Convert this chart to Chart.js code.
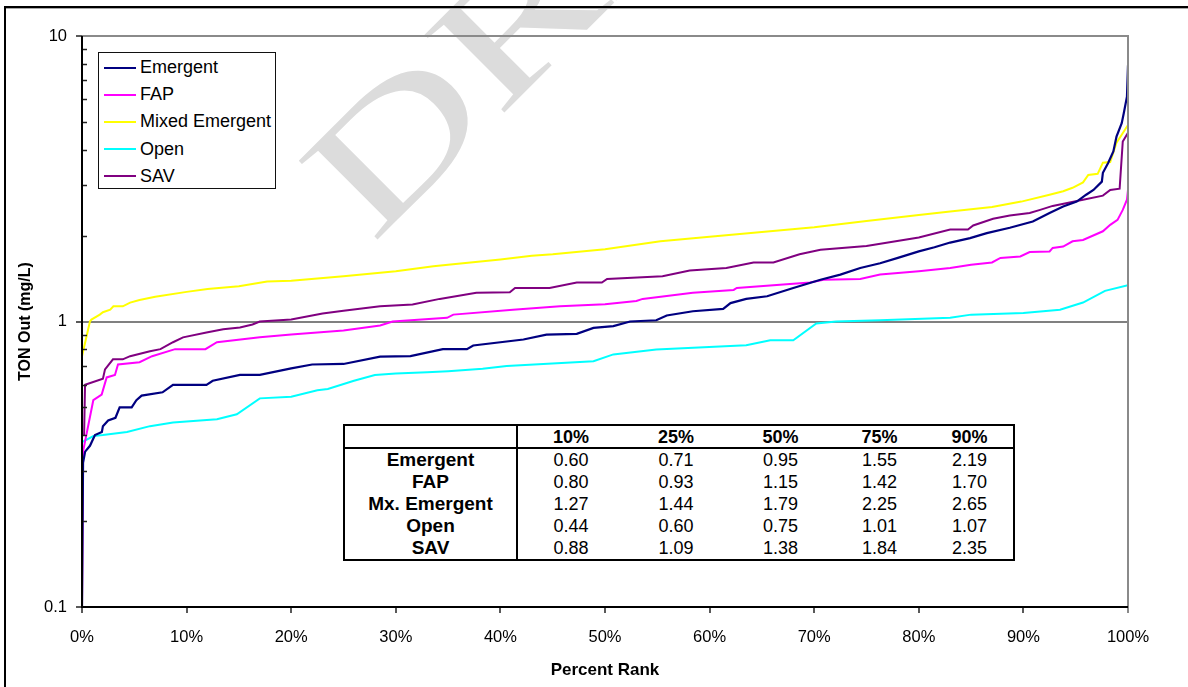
<!DOCTYPE html>
<html>
<head>
<meta charset="utf-8">
<script src="https://cdn.jsdelivr.net/npm/chart.js@4.4.1/dist/chart.umd.min.js"></script>
<style>
html,body{margin:0;padding:0;background:#fff;overflow:hidden;}
#wrap{position:relative;width:1188px;height:687px;overflow:hidden;font-family:"Liberation Sans",Arial,sans-serif;background:#fff;}
#watermark{position:absolute;left:272px;top:144px;font-family:"Liberation Serif","Times New Roman",serif;font-size:170px;line-height:170px;color:#dcdcdc;white-space:nowrap;transform-origin:0 0;transform:rotate(-45deg) scaleX(1.45);z-index:0;}
#chart{position:absolute;left:0;top:0;z-index:1;}
#frame{position:absolute;left:4px;top:6px;width:1300px;height:800px;border-top:2px solid #000;border-left:2px solid #000;z-index:2;}
#frame2{position:absolute;left:6px;top:8px;width:1300px;height:1px;background:#a8a8a8;z-index:2;}
#legend{position:absolute;left:98px;top:52px;width:178px;height:137px;border:1px solid #111;background:#fff;z-index:3;box-sizing:border-box;padding-top:1px;}
#legend .row{height:27.2px;display:flex;align-items:center;font-size:18px;color:#000;}
#legend .sw{width:32px;height:2px;margin-left:5px;margin-right:4px;}
#stats{position:absolute;left:343px;top:424px;z-index:3;border-collapse:collapse;table-layout:fixed;background:#fff;border:2px solid #000;font-size:18px;color:#000;}
#stats td,#stats th{padding:0;text-align:center;white-space:nowrap;line-height:20px;}
#stats th{font-weight:bold;}
#stats tr.hdr th{height:21px;border-bottom:2px solid #000;}
#stats tr.dat td,#stats tr.dat th{height:22px;}
#stats tr.dat th{font-size:19px;}
#stats .lab{border-right:2px solid #000;}
</style>
</head>
<body>
<div id="wrap">
  <div id="watermark">DRAFT</div>
  <canvas id="chart" width="1188" height="687"></canvas>
  <div id="frame"></div>
  <div id="frame2"></div>
  <div id="legend"></div>
  <table id="stats"></table>
</div>
<script>
// ---- Data (percent rank vs TON out, mg/L) ----
const emergentPct = [0,0.1,0.3,0.76,1.24,1.9,2.0,2.5,3.2,3.6,4.75,5.2,5.7,7.7,8.7,11.9,12.5,15.1,17,20,22,25,28.5,31.4,34.5,36.8,37.4,42.2,44.4,47.3,48.9,50.8,52.4,54.9,55.9,58.4,61.3,62,63.5,65.5,68,70.6,72.5,74.4,76.3,78,80,81.5,83,84.9,86.5,88.7,90.9,92.5,93.8,95.1,96,96.7,97.5,97.6,98.1,98.6,98.9,99.4,99.6,99.9,100];
const emergentVal = [0.1,0.32,0.35,0.367,0.40,0.41,0.43,0.45,0.46,0.50,0.50,0.53,0.55,0.565,0.60,0.60,0.62,0.65,0.65,0.685,0.707,0.71,0.753,0.756,0.80,0.80,0.824,0.865,0.90,0.905,0.95,0.963,1.0,1.01,1.05,1.086,1.107,1.16,1.20,1.226,1.31,1.40,1.46,1.54,1.60,1.67,1.76,1.82,1.89,1.96,2.04,2.13,2.24,2.40,2.53,2.63,2.78,2.89,3.09,3.32,3.59,3.94,4.44,4.95,5.37,6.13,7.9];

const fapPct = [0,0.1,1.08,1.88,2.36,3.15,3.44,5.5,6.7,8.9,11.8,12.9,17,20,25,28.5,29.7,34.9,35.5,41.2,45.7,50,53,53.6,58.4,62.3,62.6,69.6,70.9,74.4,76.3,80,83,85,87,87.8,89.7,90.6,92.5,92.8,93.8,94.7,95.7,97.6,98.3,99,99.5,99.9,100];
const fapVal = [0.1,0.35,0.53,0.555,0.637,0.65,0.707,0.72,0.756,0.80,0.80,0.846,0.88,0.90,0.93,0.968,1.0,1.03,1.057,1.10,1.13,1.15,1.18,1.20,1.26,1.29,1.31,1.37,1.40,1.41,1.46,1.50,1.54,1.58,1.61,1.67,1.69,1.75,1.76,1.81,1.83,1.91,1.93,2.07,2.18,2.27,2.46,2.67,2.89];

const mixedPct = [0,0.76,0.9,1.7,2.0,2.7,3.0,3.9,4.6,5.5,7,10,12,15,17.7,20,25,30,33.6,35,40,43,45,50,55.3,60,65,70,75,80,83,87,89.8,92.5,93.8,94.7,95.7,96.2,97.1,97.6,98.3,98.9,99.4,100];
const mixedVal = [0.756,1.0,1.016,1.057,1.078,1.10,1.13,1.13,1.165,1.19,1.22,1.27,1.30,1.33,1.38,1.39,1.44,1.50,1.56,1.58,1.65,1.70,1.72,1.79,1.91,1.98,2.06,2.14,2.25,2.36,2.43,2.52,2.63,2.78,2.86,2.94,3.07,3.26,3.29,3.60,3.62,4.23,4.51,4.88];

const openPct = [0,1.1,2.0,4.3,6.5,8.7,12.9,14.8,17,20,22.5,23.5,26,28,30,33,35,38.3,40.6,48.9,50.8,54.9,63.5,65.8,68,70.2,72.1,76.3,83,85,90,93.5,95.7,97.8,100];
const openVal = [0.378,0.397,0.40,0.41,0.43,0.443,0.455,0.473,0.538,0.545,0.574,0.58,0.62,0.65,0.658,0.664,0.67,0.683,0.698,0.726,0.767,0.798,0.826,0.86,0.86,0.984,1.0,1.01,1.03,1.057,1.07,1.10,1.165,1.28,1.34];

const savPct = [0.2,0.29,2.0,2.2,2.96,3.9,4.6,6.5,7.5,8.7,9.66,11.9,13.5,15.1,16.3,17,20,23,25,28.5,31.6,34.2,37.7,40.9,41.4,44.7,47.3,49.7,50.2,55.5,58.1,61.6,64.2,66.1,68.6,70.6,75,80,83,84.7,85.2,87.1,88.7,90.6,91.6,92.8,95.7,97.6,98.3,99.2,99.5,100];
const savVal = [0.40,0.60,0.63,0.68,0.737,0.737,0.756,0.787,0.80,0.846,0.88,0.915,0.94,0.953,0.976,1.0,1.016,1.066,1.09,1.13,1.147,1.20,1.26,1.266,1.31,1.31,1.37,1.37,1.41,1.44,1.51,1.54,1.61,1.61,1.72,1.785,1.84,1.97,2.10,2.10,2.17,2.29,2.35,2.40,2.46,2.54,2.67,2.76,2.89,2.92,4.27,4.58];

const seriesNames = ['Emergent','FAP','Mixed Emergent','Open','SAV'];
const yTickValues = [0.1, 1, 10];
const gridValues = [1];

// Percentile table
const tableCols = ['10%','25%','50%','75%','90%'];
const tableRowNames = ['Emergent','FAP','Mx. Emergent','Open','SAV'];
const tblEmergent = [0.60,0.71,0.95,1.55,2.19];
const tblFap = [0.80,0.93,1.15,1.42,1.70];
const tblMixed = [1.27,1.44,1.79,2.25,2.65];
const tblOpen = [0.44,0.60,0.75,1.01,1.07];
const tblSav = [0.88,1.09,1.38,1.84,2.35];

// ---- Styles ----
const seriesColors = ['#000080','#FF00FF','#FFFF00','#00FFFF','#800080'];
const seriesWidths = [2.2,2,2,2,2];

const pcts = [emergentPct, fapPct, mixedPct, openPct, savPct];
const vals = [emergentVal, fapVal, mixedVal, openVal, savVal];

const datasets = seriesNames.map((name, k) => ({
  label: name,
  data: pcts[k].map((p, i) => ({x: p, y: vals[k][i]})),
  borderColor: seriesColors[k],
  backgroundColor: seriesColors[k],
  borderWidth: seriesWidths[k],
  pointRadius: 0,
  tension: 0,
  fill: false
}));

Chart.defaults.font.family = '"Liberation Sans", Arial, sans-serif';
Chart.defaults.color = '#000';

const excelAxes = {
  id: 'excelAxes',
  beforeDatasetsDraw(chart) {
    const {ctx, chartArea: a, scales: {y}} = chart;
    ctx.save();
    ctx.strokeStyle = '#808080';
    ctx.lineWidth = 2;
    gridValues.forEach(v => {
      const py = Math.round(y.getPixelForValue(v));
      ctx.beginPath(); ctx.moveTo(a.left, py); ctx.lineTo(a.right, py); ctx.stroke();
    });
    ctx.restore();
  },
  afterDatasetsDraw(chart) {
    const {ctx, chartArea: a, scales: {x, y}} = chart;
    const L = Math.round(a.left), R = Math.round(a.right), T = Math.round(a.top), B = Math.round(a.bottom);
    ctx.save();
    // plot border (top + right)
    ctx.strokeStyle = '#8a8a8a'; ctx.lineWidth = 2;
    ctx.beginPath(); ctx.moveTo(L, T); ctx.lineTo(R, T); ctx.lineTo(R, B + 6); ctx.stroke();
    // x ticks
    ctx.strokeStyle = '#222'; ctx.lineWidth = 1.5;
    x.ticks.forEach(t => {
      if (t.value >= 100) return;
      const px = Math.round(x.getPixelForValue(t.value));
      ctx.beginPath(); ctx.moveTo(px, B); ctx.lineTo(px, B + 6); ctx.stroke();
    });
    // y major ticks (outside)
    yTickValues.forEach(v => {
      const py = Math.round(y.getPixelForValue(v));
      ctx.beginPath(); ctx.moveTo(L - 6, py); ctx.lineTo(L, py); ctx.stroke();
    });
    // y minor ticks (inside)
    for (let d = 0.1; d < 10; d *= 10) {
      for (let m = 2; m <= 9; m++) {
        const py = Math.round(y.getPixelForValue(d * m)) + 0.5;
        ctx.beginPath(); ctx.moveTo(L, py); ctx.lineTo(L + 5, py); ctx.stroke();
      }
    }
    // axis lines
    ctx.strokeStyle = '#000'; ctx.lineWidth = 2;
    ctx.beginPath(); ctx.moveTo(L, T); ctx.lineTo(L, B); ctx.lineTo(R, B); ctx.stroke();
    ctx.restore();
  }
};

new Chart(document.getElementById('chart'), {
  type: 'line',
  data: { datasets },
  options: {
    responsive: false,
    devicePixelRatio: 1,
    animation: false,
    events: [],
    layout: { padding: { left: 0, top: 36, right: 60, bottom: 0 } },
    plugins: { legend: { display: false }, tooltip: { enabled: false } },
    scales: {
      x: {
        type: 'linear', min: 0, max: 100, position: 'bottom',
        afterFit: s => { s.height = 80; },
        grid: { display: false, drawTicks: false },
        border: { display: false },
        ticks: { stepSize: 10, autoSkip: false, maxRotation: 0, padding: 21,
                 font: { size: 16.5 }, color: '#000',
                 callback: v => v + '%' },
        title: { display: true, text: 'Percent Rank', color: '#000',
                 font: { size: 17, weight: 'bold' }, padding: { top: 0, bottom: 6 } }
      },
      y: {
        type: 'logarithmic', min: 0.1, max: 10, position: 'left',
        afterFit: s => { s.width = 82; },
        afterBuildTicks: s => { s.ticks = yTickValues.map(v => ({ value: v })); },
        grid: { display: false, drawTicks: false },
        border: { display: false },
        ticks: { padding: 15, font: { size: 16.5 }, color: '#000',
                 callback: v => String(v) },
        title: { display: true, text: 'TON Out (mg/L)', color: '#000',
                 font: { size: 16, weight: 'bold' }, padding: { top: 16, bottom: 0 } }
      }
    }
  },
  plugins: [excelAxes]
});

// ---- HTML legend ----
const legend = document.getElementById('legend');
seriesNames.forEach((name, k) => {
  const row = document.createElement('div'); row.className = 'row';
  const sw = document.createElement('span'); sw.className = 'sw'; sw.style.background = seriesColors[k];
  const tx = document.createElement('span'); tx.textContent = name;
  row.appendChild(sw); row.appendChild(tx); legend.appendChild(row);
});

// ---- Percentile table ----
const colWidths = [173, 107, 104, 105, 93, 88];
const tbl = document.getElementById('stats');
const cg = document.createElement('colgroup');
colWidths.forEach(w => { const c = document.createElement('col'); c.style.width = w + 'px'; cg.appendChild(c); });
tbl.appendChild(cg);
const hdr = document.createElement('tr'); hdr.className = 'hdr';
const h0 = document.createElement('th'); h0.className = 'lab'; hdr.appendChild(h0);
tableCols.forEach(c => { const th = document.createElement('th'); th.textContent = c; hdr.appendChild(th); });
tbl.appendChild(hdr);
[tblEmergent, tblFap, tblMixed, tblOpen, tblSav].forEach((rowVals, r) => {
  const tr = document.createElement('tr'); tr.className = 'dat';
  const th = document.createElement('th'); th.className = 'lab'; th.textContent = tableRowNames[r]; tr.appendChild(th);
  rowVals.forEach(v => { const td = document.createElement('td'); td.textContent = v.toFixed(2); tr.appendChild(td); });
  tbl.appendChild(tr);
});
</script>
</body>
</html>
